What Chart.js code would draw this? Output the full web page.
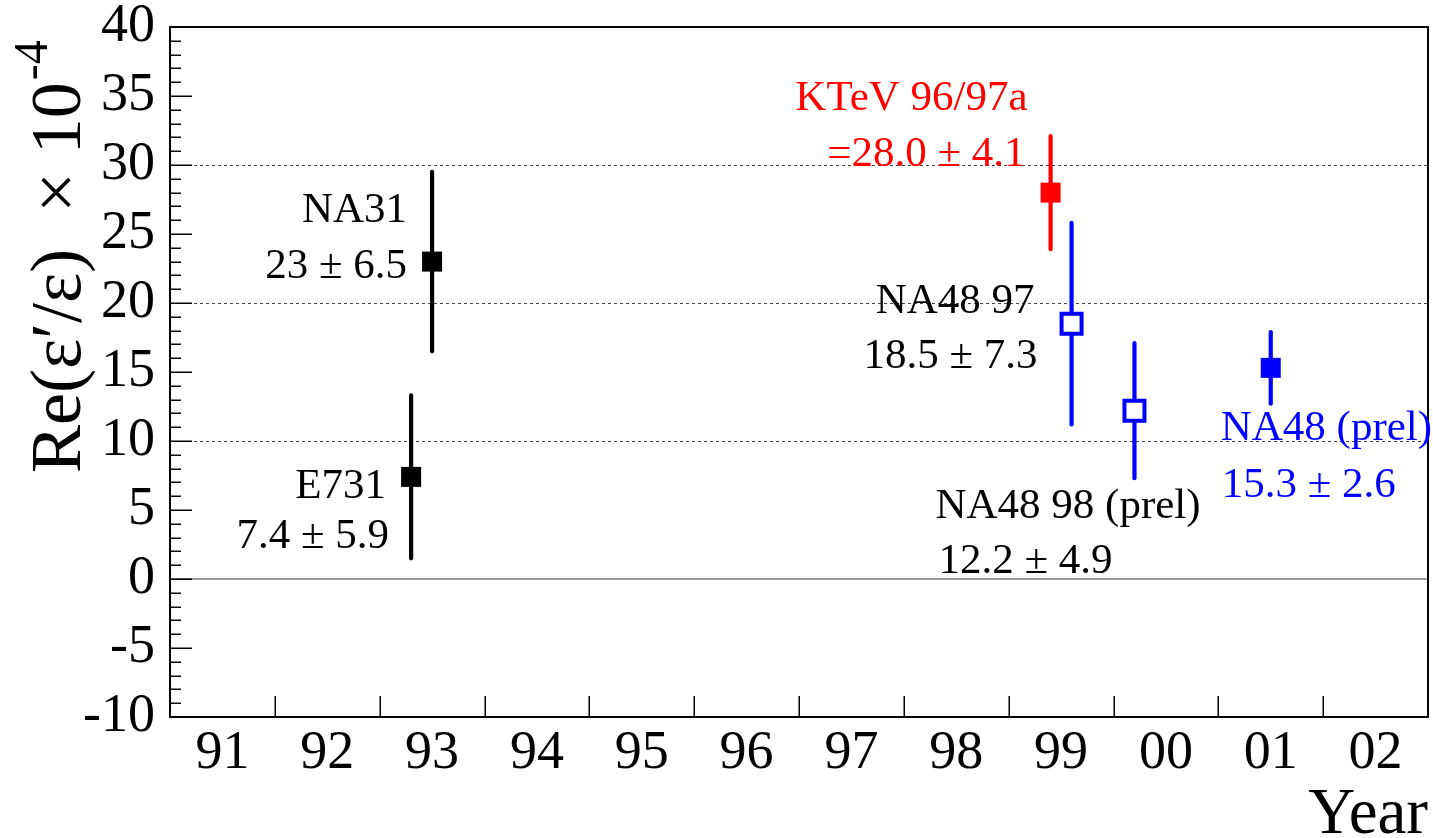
<!DOCTYPE html>
<html>
<head>
<meta charset="utf-8">
<title>Re(ε′/ε) measurements</title>
<script src="https://cdn.jsdelivr.net/npm/chart.js@4.4.1/dist/chart.umd.min.js"></script>
<style>
  html, body { margin: 0; padding: 0; background: #ffffff; }
  #wrap { width: 1433px; height: 838px; }
</style>
</head>
<body>
<div id="wrap"><canvas id="chart" width="1433" height="838"></canvas></div>
<script>
// Measurements of Re(eps'/eps) in units of 1e-4, plotted against publication year
const experiments = ['E731', 'NA31', 'KTeV 96/97a', 'NA48 97', 'NA48 98 (prel)', 'NA48 (prel)'];
const years       = [1993.3, 1993.5, 1999.4, 1999.6, 2000.2, 2001.5];
const values      = [7.4, 23, 28.0, 18.5, 12.2, 15.3];
const errors      = [5.9, 6.5, 4.1, 7.3, 4.9, 2.6];
const valueDigits = [1, 0, 1, 1, 1, 1];
const valuePrefix = ['', '', '=', '', '', ''];
const yearLabels  = ['91', '92', '93', '94', '95', '96', '97', '98', '99', '00', '01', '02'];
const gridValues  = [10, 20, 30];

// styling of each measurement
const markerColor = ['#000000', '#000000', '#ff0000', '#0000ff', '#0000ff', '#0000ff'];
const markerOpen  = [false, false, false, true, true, false];
const labelColor  = ['#000000', '#000000', '#ff0000', '#000000', '#000000', '#0000ff'];
// label placement relative to the marker: pixel offsets for name and value lines
const labelPlace = [
  { align: 'right', nx: -25, ny: 21,  vx: -22, vy: 71 },
  { align: 'right', nx: -25, ny: -40, vx: -25, vy: 16 },
  { align: 'right', nx: -23, ny: -83, vx: -25, vy: -27 },
  { align: 'right', nx: -37, ny: -11, vx: -34, vy: 44 },
  { align: 'left',  nx: -199, ny: 107, vx: -196, vy: 162 },
  { align: 'left',  nx: -50, ny: 72,  vx: -49, vy: 129 }
];

const SERIF = '"Liberation Serif", "Times New Roman", Times, serif';
const YEAR0 = 1991;

const valueText = (i) =>
  valuePrefix[i] + values[i].toFixed(valueDigits[i]) + ' \u00b1 ' + errors[i].toFixed(1);

// error bars: one short vertical line per measurement
const errorBarSets = years.map((x, i) => ({
  type: 'scatter',
  showLine: true,
  data: [{ x: x, y: values[i] - errors[i] }, { x: x, y: values[i] + errors[i] }],
  borderColor: markerColor[i],
  borderWidth: 4.2,
  borderCapStyle: 'round',
  pointRadius: 0,
  order: 2
}));

const markerSet = {
  type: 'scatter',
  data: years.map((x, i) => ({ x: x, y: values[i] })),
  pointStyle: 'rect',
  pointRadius: 14.14,
  pointHoverRadius: 14.14,
  pointBackgroundColor: markerOpen.map((o, i) => (o ? '#ffffff' : markerColor[i])),
  pointBorderColor: markerColor,
  pointBorderWidth: markerOpen.map((o) => (o ? 4 : 0)),
  order: 1
};

// frame, inward ticks, reference lines, labels and axis titles
const decorations = {
  id: 'decorations',
  beforeDatasetsDraw(chart) {
    const { ctx, chartArea: a, scales: { y } } = chart;
    ctx.save();
    ctx.lineWidth = 1;
    ctx.strokeStyle = '#444444';
    ctx.setLineDash([3, 3]);
    gridValues.forEach((v) => {
      const py = Math.round(y.getPixelForValue(v)) + 0.5;
      ctx.beginPath();
      ctx.moveTo(a.left, py);
      ctx.lineTo(a.right, py);
      ctx.stroke();
    });
    ctx.setLineDash([]);
    ctx.strokeStyle = '#777777';
    ctx.lineWidth = 1.5;
    const z = y.getPixelForValue(0);
    ctx.beginPath();
    ctx.moveTo(a.left, z);
    ctx.lineTo(a.right, z);
    ctx.stroke();
    ctx.restore();
  },
  afterDatasetsDraw(chart) {
    const { ctx, chartArea: a, scales: { x, y } } = chart;
    ctx.save();

    // axis ticks pointing into the plot
    ctx.strokeStyle = '#000000';
    ctx.lineWidth = 1.5;
    for (let v = y.min; v <= y.max; v += 1) {
      const py = Math.round(y.getPixelForValue(v)) + 0.25;
      const len = v % 5 === 0 ? 22 : 11;
      ctx.beginPath();
      ctx.moveTo(a.left, py);
      ctx.lineTo(a.left + len, py);
      ctx.stroke();
    }
    for (let v = Math.ceil(x.min) + 1; v < x.max; v += 1) {
      const px = Math.round(x.getPixelForValue(v)) + 0.25;
      ctx.beginPath();
      ctx.moveTo(px, a.bottom);
      ctx.lineTo(px, a.bottom - 21);
      ctx.stroke();
    }

    // frame
    ctx.lineWidth = 2;
    ctx.strokeRect(a.left, a.top, a.right - a.left, a.bottom - a.top);

    // measurement labels
    ctx.font = '43px ' + SERIF;
    ctx.textBaseline = 'alphabetic';
    experiments.forEach((name, i) => {
      const px = x.getPixelForValue(years[i]);
      const py = y.getPixelForValue(values[i]);
      const p = labelPlace[i];
      ctx.fillStyle = labelColor[i];
      ctx.textAlign = p.align;
      ctx.fillText(name, px + p.nx, py + p.ny);
      ctx.fillText(valueText(i), px + p.vx, py + p.vy);
    });

    // x axis title
    ctx.fillStyle = '#000000';
    ctx.font = '65px ' + SERIF;
    ctx.textAlign = 'right';
    ctx.fillText('Year', a.right, 833);

    // y axis title, rotated
    ctx.translate(80, 473);
    ctx.rotate(-Math.PI / 2);
    ctx.textAlign = 'left';
    ctx.font = '72px ' + SERIF;
    const main = 'Re(\u03b5\u2032/\u03b5)  \u00d7 10';
    ctx.fillText(main, 0, 0);
    const w = ctx.measureText(main).width;
    ctx.font = '48px ' + SERIF;
    ctx.fillText('-4', w + 2, -33);

    ctx.restore();
  }
};

new Chart(document.getElementById('chart'), {
  type: 'scatter',
  data: { datasets: [markerSet, ...errorBarSets] },
  options: {
    responsive: false,
    animation: false,
    events: [],
    layout: { autoPadding: false, padding: { top: 27, right: 5, left: 0, bottom: 0 } },
    plugins: { legend: { display: false }, tooltip: { enabled: false } },
    scales: {
      x: {
        type: 'linear',
        min: YEAR0,
        max: YEAR0 + yearLabels.length,
        grid: { display: false, drawTicks: false },
        border: { display: false },
        afterBuildTicks: (s) => { s.ticks = yearLabels.map((_, i) => ({ value: YEAR0 + i + 0.5 })); },
        afterFit: (s) => { s.height = 121; s.paddingLeft = 0; s.paddingRight = 0; },
        ticks: {
          autoSkip: false,
          maxRotation: 0,
          padding: 4,
          color: '#000000',
          font: { family: SERIF, size: 54 },
          callback: (v) => yearLabels[Math.round(v - YEAR0 - 0.5)]
        }
      },
      y: {
        type: 'linear',
        min: -10,
        max: 40,
        grid: { display: false, drawTicks: false },
        border: { display: false },
        afterFit: (s) => { s.width = 170; s.paddingTop = 0; s.paddingBottom = 0; },
        ticks: {
          stepSize: 5,
          autoSkip: false,
          padding: 15,
          color: '#000000',
          font: { family: SERIF, size: 54 }
        }
      }
    }
  },
  plugins: [decorations]
});
</script>
</body>
</html>
